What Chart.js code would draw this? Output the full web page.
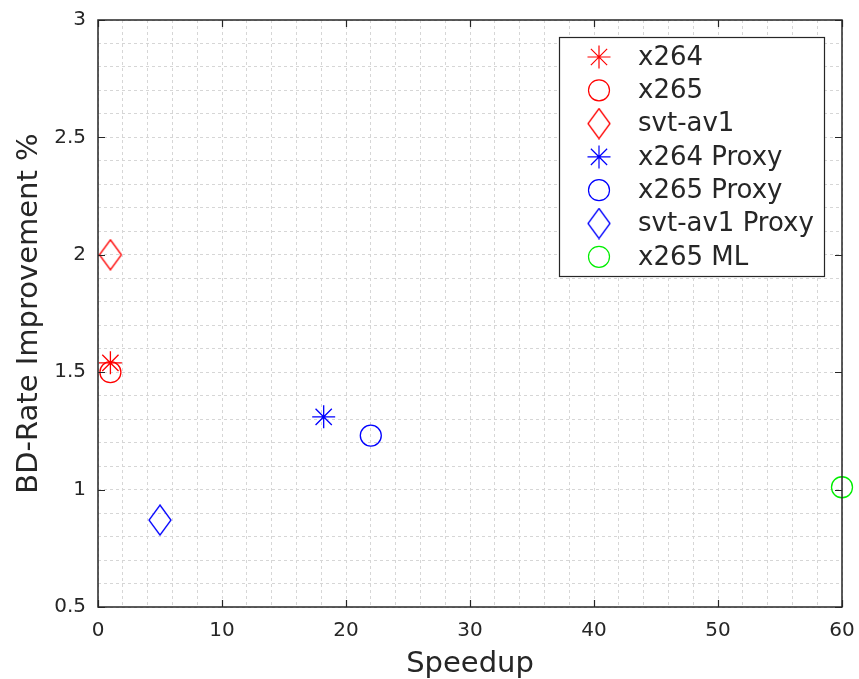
<!DOCTYPE html>
<html>
<head>
<meta charset="utf-8">
<script src="https://cdn.jsdelivr.net/npm/chart.js@4.4.1/dist/chart.umd.min.js"></script>
<style>
  html, body { margin: 0; padding: 0; background: #fff; }
  #wrap { width: 859px; height: 679px; }
</style>
</head>
<body>
<div id="wrap"><canvas id="plot"></canvas></div>
<script>
// series (speedup, BD-rate improvement %)
var labels = ['x264', 'x265', 'svt-av1', 'x264 Proxy', 'x265 Proxy', 'svt-av1 Proxy', 'x265 ML'];
var speedup = [1, 1, 1, 18.2, 22, 5, 60];
var bdrate = [1.54, 1.50, 2.00, 1.31, 1.23, 0.87, 1.01];
var colors = ['#ff0000', '#ff0000', '#ff0000', '#0000ff', '#0000ff', '#0000ff', '#00ee00'];
var markers = ['star', 'circle', 'diamond', 'star', 'circle', 'diamond', 'circle'];

var xMajor = [0, 10, 20, 30, 40, 50, 60];
var yMajor = [0.5, 1, 1.5, 2, 2.5, 3];

var fontName = 'DejaVu Sans';
var axisColor = '#262626';

// MATLAB style diamond (taller than wide)
function diamond(color) {
  var c = document.createElement('canvas');
  c.width = 24; c.height = 32;
  var g = c.getContext('2d');
  g.strokeStyle = color;
  g.lineWidth = 1.3;
  g.beginPath();
  g.moveTo(12, 1); g.lineTo(23, 16); g.lineTo(12, 31); g.lineTo(1, 16);
  g.closePath();
  g.stroke();
  return c;
}

function styleFor(i) {
  if (markers[i] == 'diamond') return diamond(colors[i]);
  return markers[i];
}

var datasets = [];
for (var i = 0; i < labels.length; i++) {
  datasets.push({
    label: labels[i],
    data: [{x: speedup[i], y: bdrate[i]}],
    pointStyle: styleFor(i),
    pointRadius: markers[i] == 'star' ? 11.5 : 10.5,
    pointBorderColor: colors[i],
    pointBackgroundColor: 'rgba(0,0,0,0)',
    pointBorderWidth: 1.3,
    pointHoverRadius: 11,
    clip: false
  });
}

// box, inward ticks and legend in matlab style
var matlabBits = {
  id: 'matlabBits',
  afterDatasetsDraw: function(chart) {
    var ctx = chart.ctx;
    var a = chart.chartArea;
    var xs = chart.scales.x, ys = chart.scales.y;
    ctx.save();
    ctx.strokeStyle = axisColor;
    ctx.lineWidth = 1.5;
    ctx.strokeRect(a.left, a.top, a.right - a.left, a.bottom - a.top);
    ctx.lineWidth = 1.2;
    ctx.beginPath();
    xMajor.forEach(function(v) {
      var px = Math.round(xs.getPixelForValue(v)) + 0.5;
      ctx.moveTo(px, a.bottom); ctx.lineTo(px, a.bottom - 7);
      ctx.moveTo(px, a.top); ctx.lineTo(px, a.top + 7);
    });
    yMajor.forEach(function(v) {
      var py = Math.round(ys.getPixelForValue(v)) + 0.5;
      ctx.moveTo(a.left, py); ctx.lineTo(a.left + 7, py);
      ctx.moveTo(a.right, py); ctx.lineTo(a.right - 7, py);
    });
    ctx.stroke();

    // legend
    var bx = 559, by = 37, bw = 265, bh = 239;
    ctx.fillStyle = '#ffffff';
    ctx.fillRect(bx, by, bw, bh);
    ctx.strokeStyle = axisColor;
    ctx.lineWidth = 1.2;
    ctx.strokeRect(bx + 0.5, by + 0.5, bw, bh);
    ctx.font = '26px "' + fontName + '"';
    ctx.textBaseline = 'middle';
    ctx.textAlign = 'left';
    for (var i = 0; i < labels.length; i++) {
      var cy = 57 + i * 33.3;
      var ds = chart.data.datasets[i];
      ctx.strokeStyle = colors[i];
      ctx.fillStyle = 'rgba(0,0,0,0)';
      Chart.helpers.drawPoint(ctx, {
        pointStyle: ds.pointStyle,
        radius: ds.pointRadius,
        rotation: 0,
        borderWidth: 1.3
      }, 599, cy);
      ctx.fillStyle = axisColor;
      ctx.fillText(labels[i], 638, cy + 1);
    }
    ctx.restore();
  }
};

new Chart(document.getElementById('plot'), {
  type: 'scatter',
  data: { datasets: datasets },
  plugins: [matlabBits],
  options: {
    responsive: true,
    maintainAspectRatio: false,
    animation: false,
    layout: { padding: { left: 0, right: 17, top: 20, bottom: 0 } },
    plugins: { legend: { display: false }, tooltip: { enabled: false } },
    scales: {
      x: {
        type: 'linear',
        min: 0, max: 60,
        afterFit: function(s) { s.height = 72; s.paddingLeft = 0; s.paddingRight = 0; },
        ticks: {
          stepSize: 2,
          autoSkip: false,
          maxRotation: 0,
          padding: 12,
          color: axisColor,
          font: { family: fontName, size: 20 },
          callback: function(v) { return (Math.round(v) % 10 == 0) ? String(v) : ''; }
        },
        grid: { color: '#d6d6d6', lineWidth: 1, drawTicks: false },
        border: { display: false, dash: [3, 3] },
        title: {
          display: true,
          text: 'Speedup',
          color: axisColor,
          font: { family: fontName, size: 29 },
          padding: { top: 0, bottom: -3 }
        }
      },
      y: {
        type: 'linear',
        min: 0.5, max: 3,
        afterFit: function(s) { s.width = 98; s.paddingTop = 0; s.paddingBottom = 0; },
        ticks: {
          stepSize: 0.1,
          autoSkip: false,
          padding: 12,
          color: axisColor,
          font: { family: fontName, size: 20 },
          callback: function(v) {
            var t = Math.round(v * 10);
            return (t % 5 == 0) ? String(t / 10) : '';
          }
        },
        grid: { color: '#d6d6d6', lineWidth: 1, drawTicks: false },
        border: { display: false, dash: [3, 3] },
        title: {
          display: true,
          text: 'BD-Rate Improvement %',
          color: axisColor,
          font: { family: fontName, size: 29 },
          padding: { top: 12, bottom: 0 }
        }
      }
    }
  }
});
</script>
</body>
</html>
